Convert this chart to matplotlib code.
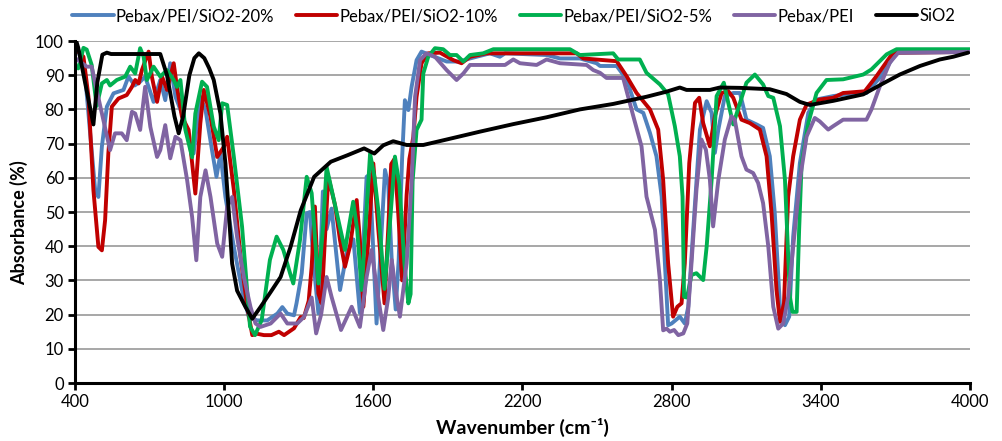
import numpy as np
import matplotlib
matplotlib.use("Agg")
import matplotlib.pyplot as plt

plt.rcParams["font.family"] = ["Lato", "DejaVu Sans"]

# Series values (wavenumber, absorbance %)
wn_20 = [400, 413, 440, 460, 481, 494, 508, 528, 555, 595, 615, 640, 662, 682, 716, 743, 763, 783, 804, 830,
         857, 877, 904, 925, 951, 969, 985, 1005, 1039, 1072, 1099, 1133, 1173, 1214, 1234, 1254, 1281, 1291, 1312, 1332,
         1345, 1361, 1379, 1397, 1412, 1432, 1466, 1493, 1520, 1546, 1573, 1586, 1613, 1647, 1660, 1674, 1690,
         1702, 1716, 1727, 1741, 1754, 1774, 1794, 1828, 1895, 1948, 1989, 2069, 2109, 2130, 2297, 2351, 2431, 2498, 2512, 2579,
         2619, 2659, 2686, 2713, 2739, 2760, 2773, 2786, 2800, 2833, 2853, 2867, 2887, 2914, 2941, 2961, 2974, 2988, 3014, 3048,
         3075, 3101, 3142, 3168, 3195, 3215, 3236, 3256, 3273, 3289, 3316, 3350, 3383, 3450, 3504, 3584, 3638, 3705, 4000]
ab_20 = [98, 97.4, 90.5, 73.7, 56.4, 54.4, 69.1, 80.8, 84.7, 85.7, 89.6, 87, 88.1, 89.6, 82.2, 88.6, 82.7, 93.5, 83.7, 78.8,
         71, 67.1, 83.7, 79.8, 68.1, 60.3, 67.1, 54.4, 39.8, 27.1, 19.3, 18.3, 18.3, 20.3, 22.2, 20.3, 19.8, 23.3, 32.1, 49.6,
         50, 34, 20.4, 56, 45, 51, 27.2, 38, 42, 20.5, 60.3, 61, 17.4, 62.3, 58, 36, 21.5,
         36, 66, 82.7, 79.8, 86.6, 94.4, 96.9, 95.9, 94, 94, 94.9, 96.4, 95.4, 96.4, 95.9, 94.9, 94.9, 93.5, 92.7, 92.7,
         88.8, 80, 79, 73.1, 66.3, 54.5, 35, 16.9, 17.4, 19.4, 17.4, 22.3, 44.8, 74.1, 82.4, 79, 67.3, 74.1, 83.9, 84.8,
         84.8, 77, 75.6, 74.6, 66.3, 49.7, 22.3, 16.9, 19.4, 42.8, 64.3, 79, 82.9, 83.9, 84.4, 84.8, 89.3, 96.6, 96.8]

wn_10 = [400, 413, 434, 454, 474, 494, 508, 521, 534, 548, 575, 608, 629, 642, 656, 669, 696, 709, 730, 750,
         770, 797, 810, 830, 857, 884, 904, 918, 945, 972, 999, 1012, 1039, 1066, 1093, 1113, 1133, 1160, 1190, 1220,
         1241, 1281, 1308, 1320, 1340, 1352, 1365, 1379, 1392, 1405, 1419, 1446, 1466, 1486, 1506, 1533, 1546, 1560, 1580, 1600,
         1620, 1645, 1660, 1672, 1685, 1700, 1716, 1734, 1745, 1761, 1774, 1794, 1821, 1868, 1922, 1955, 1989, 2056, 2418, 2445,
         2512, 2579, 2619, 2659, 2713, 2746, 2766, 2786, 2806, 2823, 2840, 2853, 2871, 2894, 2911, 2927, 2954, 2974, 3001, 3028,
         3048, 3081, 3115, 3155, 3182, 3202, 3222, 3236, 3252, 3269, 3289, 3316, 3343, 3396, 3450, 3490, 3577, 3624, 3691, 4000]
ab_10 = [97, 96.9, 95.4, 83.7, 56.4, 39.8, 38.8, 47.6, 67.1, 80.8, 83.2, 84.2, 86.6, 88.6, 87.6, 91.5, 96.9, 89.6, 82.2, 89.6,
         85.7, 93.5, 86.6, 77.9, 74, 55.4, 75.9, 85.7, 77.9, 66.1, 69.1, 72, 56.4, 36.9, 22.2, 14, 14.4, 14, 14, 15,
         14, 16, 19.3, 19, 24, 34, 51.6, 26.2, 23.3, 41.8, 60.3, 52, 41.8, 34, 40, 53.5, 41.8, 22.3, 41.8, 64.2,
         45, 23.3, 45, 64, 65.5, 50, 30, 55, 65.5, 72, 83.7, 93.5, 96.4, 96.6, 94.4, 93.5, 95.4, 96.4, 96.4, 94.9,
         94.5, 94.1, 89.7, 84.8, 80, 74.1, 59.4, 35, 19.4, 22.3, 23.3, 35, 64.3, 81.9, 83.4, 76, 69.2, 78, 84.8, 85.3,
         83.4, 77, 76, 74.1, 66.3, 49.7, 27.2, 17.9, 23.3, 54.5, 66.3, 77, 81.4, 82.9, 83.4, 84.8, 85.3, 89.7, 96.6, 96.8]

wn_5 = [400, 413, 434, 447, 467, 487, 508, 528, 541, 568, 602, 622, 642, 662, 676, 689, 716, 743, 770, 797,
        810, 824, 844, 871, 884, 911, 931, 958, 978, 992, 1012, 1039, 1072, 1104, 1124, 1151, 1184, 1211, 1238, 1265,
        1278, 1305, 1332, 1352, 1379, 1399, 1412, 1446, 1486, 1519, 1535, 1553, 1587, 1605, 1620, 1645, 1665, 1687, 1705, 1725,
        1741, 1750, 1758, 1774, 1794, 1801, 1821, 1848, 1881, 1908, 1935, 1962, 1989, 2042, 2083, 2391, 2431, 2565, 2585,
        2672, 2699, 2753, 2786, 2813, 2833, 2844, 2850, 2862, 2880, 2900, 2927, 2941, 2961, 2981, 3010, 3028, 3048, 3075, 3101,
        3135, 3168, 3189, 3209, 3236, 3256, 3276, 3286, 3303, 3313, 3323, 3350, 3383, 3423, 3490, 3571, 3604, 3665, 3705, 4000]
ab_5 = [93, 92, 98, 97.5, 93, 81, 87.6, 88.6, 87, 88.6, 89.6, 92.5, 90.5, 97.9, 95.4, 88.6, 92.5, 89.6, 91.5, 88.6,
        86.6, 88.6, 74, 66, 78.8, 88.1, 86.6, 75, 71, 81.8, 81.3, 66.1, 45.7, 16.5, 14, 18.4, 36, 42.8, 38.9, 32.1,
        29.1, 41.8, 60.3, 55.5, 29.1, 46.7, 63.2, 52, 38.9, 53, 45, 27.2, 67.1, 60, 50.6, 27.5, 45, 66.2, 58, 35,
        23.3, 26, 59, 74, 77, 90.5, 95.4, 97.9, 97.6, 95.9, 95.9, 94, 95.9, 96.4, 97.6, 97.6, 95.9, 96.4, 94.6,
        94.6, 90.7, 87.3, 84.4, 75.1, 66.3, 54.5, 25.2, 25, 31.6, 32.1, 30.1, 39.9, 59.4, 83.9, 87.8, 81.9, 75.6, 81.9, 87.8,
        90.2, 87.3, 83.9, 83.4, 75.1, 59.4, 25.2, 20.8, 20.8, 44.8, 64.3, 76, 84.8, 88.6, 88.8, 90.2, 91.7, 96.1, 97.6, 97.6]

wn_pei = [400, 413, 447, 467, 487, 514, 541, 561, 588, 608, 629, 642, 662, 682, 703, 730, 743, 763, 783, 804,
          824, 851, 871, 888, 904, 925, 945, 972, 992, 1012, 1032, 1052, 1079, 1106, 1126, 1146, 1187, 1227, 1254, 1294,
          1321, 1352, 1370, 1390, 1412, 1432, 1470, 1513, 1546, 1573, 1593, 1613, 1640, 1660, 1674, 1690, 1707, 1734, 1754,
          1768, 1788, 1814, 1848, 1895, 1935, 1962, 1989, 2069, 2130, 2163, 2190, 2257, 2297, 2351, 2458, 2485, 2512, 2538,
          2605, 2646, 2679, 2699, 2733, 2753, 2766, 2780, 2793, 2810, 2827, 2847, 2863, 2880, 2900, 2920, 2938, 2954, 2967, 2988,
          3014, 3041, 3054, 3081, 3101, 3128, 3148, 3168, 3189, 3209, 3229, 3249, 3269, 3296, 3316, 3343, 3376, 3396, 3430, 3450,
          3490, 3584, 3604, 3638, 3678, 3712, 4000]
ab_pei = [95, 94.4, 92.5, 92.5, 85.7, 76.9, 68.1, 73, 73, 71, 79.3, 78.8, 74, 86.6, 74.9, 66.1, 68.1, 75.4, 65.7, 72,
          71, 59.3, 48.6, 35.9, 54.4, 62.2, 54.4, 40.8, 36.9, 51.5, 54.4, 42.7, 31, 22.2, 17.4, 16.4, 17.4, 20.3, 17.4, 17.4,
          19.3, 25, 14.5, 20, 31, 25.2, 15.5, 22.3, 16.4, 31, 38.9, 28.2, 15.5, 25, 36, 27, 19.4, 35, 58.4,
          83.7, 94.4, 96.4, 95.4, 91.5, 88.6, 90.5, 93, 93, 93, 94.6, 93.5, 93, 94.6, 93.5, 93, 91.5, 90.7, 89.2,
          89.2, 78, 69.2, 54.5, 44.8, 30.1, 15.4, 15.9, 15, 15.5, 14, 14.5, 17.4, 35, 56.5, 71.2, 68.2, 59.4, 45.8, 59.4,
          71.2, 78, 77, 66.3, 62.4, 61.4, 58.5, 52.6, 39.9, 22.3, 15.9, 17.4, 25.2, 44.8, 59.4, 72.1, 77.5, 76.5, 74.1, 75.1,
          77, 77, 80, 86.8, 93.7, 96.6, 96.8]

wn_sio2 = [405, 413, 440, 474, 490, 510, 528, 545, 743, 770, 800, 817, 835, 860, 880, 898, 920, 940, 958, 985,
           1005, 1019, 1032, 1052, 1086, 1113, 1146, 1187, 1227, 1267, 1308, 1362, 1429, 1496, 1563, 1604, 1640, 1680, 1734, 1801,
           1895, 2029, 2163, 2297, 2431, 2565, 2699, 2780, 2833, 2860, 2954, 2994, 3075, 3195, 3262, 3316, 3356, 3450, 3571, 3651,
           3718, 3799, 3879, 3933, 3993]
ab_sio2 = [100, 98, 88, 75.6, 88, 96, 96.6, 96.2, 96.2, 90, 78, 73, 78, 90, 95, 96.4, 95, 92, 88.6, 78.8,
           64.2, 49.6, 34.9, 27, 22.2, 18.8, 22.2, 26.6, 31, 39.8, 50.5, 60.3, 64.7, 66.6, 68.6, 67.1, 69.5, 70.7, 69.6, 69.6,
           71.2, 73.5, 75.7, 77.7, 80, 81.6, 83.7, 85.2, 86.4, 85.7, 85.7, 86.4, 86.3, 85.9, 84.5, 82.2, 81.3, 82.5, 84.4, 87.6,
           90.2, 92.7, 94.6, 95.4, 96.6]

series = [
    ("Pebax/PEI/SiO2-20%", wn_20, ab_20, "#4F81BD"),
    ("Pebax/PEI/SiO2-10%", wn_10, ab_10, "#C00000"),
    ("Pebax/PEI/SiO2-5%", wn_5, ab_5, "#00B050"),
    ("Pebax/PEI", wn_pei, ab_pei, "#8064A2"),
    ("SiO2", wn_sio2, ab_sio2, "#000000"),
]

fig = plt.figure(figsize=(10.03, 4.41), dpi=100)
ax = fig.add_axes([0.0748, 0.1315, 0.8922, 0.7755])

for label, x, y, color in series:
    ax.plot(x, y, color=color, lw=2.8, label=label, solid_joinstyle="round", solid_capstyle="round")

ax.set_xlim(400, 4000)
ax.set_ylim(0, 100)
ax.set_xticks(np.arange(400, 4001, 600))
ax.set_yticks(np.arange(0, 101, 10))
ax.yaxis.grid(True, color="#A0A0A0", lw=1.3)
ax.set_axisbelow(True)

for side in ["top", "right"]:
    ax.spines[side].set_visible(False)
for side in ["left", "bottom"]:
    ax.spines[side].set_linewidth(2.2)
ax.tick_params(axis="both", direction="out", length=5, width=2, labelsize=12, pad=3)

ax.set_xlabel("Wavenumber (cm⁻¹)", fontsize=14, fontweight="bold", labelpad=6)
ax.set_ylabel("Absorbance (%)", fontsize=13, fontweight="bold", labelpad=4)
ax.yaxis.set_label_coords(-0.052, 0.47)

ax.legend(loc="lower center", bbox_to_anchor=(0.49, 1.015), ncol=5, frameon=False, fontsize=12,
          handlelength=2.5, handletextpad=0.12, columnspacing=1.3, borderaxespad=0.3)

fig.savefig("out.png", dpi=100)
